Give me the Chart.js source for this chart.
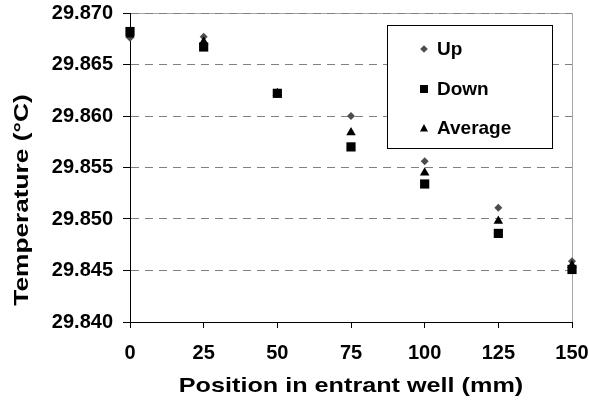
<!DOCTYPE html>
<html>
<head>
<meta charset="utf-8">
<style>
  html, body { margin: 0; padding: 0; background: #fff; }
</style>
</head>
<body>
<canvas id="tempChart" width="589" height="400"></canvas>
<script src="https://cdn.jsdelivr.net/npm/chart.js@4/dist/chart.umd.min.js"></script>
<script>
// Data
const positions = [0, 25, 50, 75, 100, 125, 150]
const upTemps = [29.8676, 29.8677, 29.8622, 29.8600, 29.8556, 29.8511, 29.8459]
const downTemps = [29.8682, 29.8667, 29.8622, 29.8570, 29.8534, 29.8486, 29.8451]
const averageTemps = [29.8679, 29.8672, 29.8622, 29.8584, 29.8545, 29.8498, 29.8455]

const xTicks = [0, 25, 50, 75, 100, 125, 150]
const yTicks = [29.840, 29.845, 29.850, 29.855, 29.860, 29.865, 29.870]

const seriesLabels = ['Up', 'Down', 'Average']
const xTitle = 'Position in entrant well (mm)'
const yTitle = 'Temperature (°C)'

const FONT = '"Liberation Sans", Arial, sans-serif'

const toPoints = (values) => positions.map((x, i) => ({ x, y: values[i] }))

// -------------------------

// Plot border (light grey on top and right)
const plotFrame = {
  id: 'plotFrame',
  beforeDraw(chart) {
    const { ctx, chartArea: a } = chart
    ctx.save()
    ctx.strokeStyle = '#a6a6a6'
    ctx.lineWidth = 1
    ctx.beginPath()
    ctx.moveTo(a.left, a.top + 0.5)
    ctx.lineTo(a.right + 0.5, a.top + 0.5)
    ctx.lineTo(a.right + 0.5, a.bottom)
    ctx.stroke()
    ctx.restore()
  },
}

// Axis titles, drawn a bit wider like the original
const drawStretched = (ctx, text, x, y, angle, scaleX) => {
  ctx.save()
  ctx.translate(x, y)
  ctx.rotate(angle)
  ctx.scale(scaleX, 1)
  ctx.fillText(text, 0, 0)
  ctx.restore()
}

const axisTitles = {
  id: 'axisTitles',
  afterDraw(chart) {
    const { ctx, chartArea: a } = chart
    ctx.save()
    ctx.fillStyle = '#000'
    ctx.font = 'bold 21px ' + FONT
    ctx.textAlign = 'center'
    ctx.textBaseline = 'alphabetic'
    drawStretched(ctx, xTitle, (a.left + a.right) / 2, 392, 0, 1.2)
    drawStretched(ctx, yTitle, 28, chart.height / 2, -Math.PI / 2, 1.25)
    ctx.restore()
  },
}

// Boxed legend inside the plot
const drawMarker = (ctx, style, x, y, color) => {
  ctx.fillStyle = color
  ctx.beginPath()
  if (style === 'rectRot') {
    ctx.moveTo(x, y - 3.8)
    ctx.lineTo(x + 3.8, y)
    ctx.lineTo(x, y + 3.8)
    ctx.lineTo(x - 3.8, y)
  } else if (style === 'rect') {
    ctx.rect(x - 4, y - 4, 8, 8)
  } else {
    ctx.moveTo(x, y - 4)
    ctx.lineTo(x + 4, y + 3.5)
    ctx.lineTo(x - 4, y + 3.5)
  }
  ctx.closePath()
  ctx.fill()
}

const boxLegend = {
  id: 'boxLegend',
  afterDraw(chart) {
    const { ctx } = chart
    const rows = [49, 89, 128]
    ctx.save()
    ctx.fillStyle = '#fff'
    ctx.fillRect(387, 25, 165, 123)
    ctx.strokeStyle = '#000'
    ctx.lineWidth = 1
    ctx.strokeRect(387.5, 25.5, 165, 123)

    ctx.font = 'bold 19px ' + FONT
    ctx.textAlign = 'left'
    ctx.textBaseline = 'middle'
    chart.data.datasets.forEach((ds, i) => {
      drawMarker(ctx, ds.pointStyle, 424, rows[i], ds.backgroundColor)
      ctx.fillStyle = '#000'
      ctx.fillText(ds.label, 437, rows[i] + 1)
    })
    ctx.restore()
  },
}

// -------------------------

const tickFont = { family: FONT, size: 20, weight: 'bold' }

new Chart(document.getElementById('tempChart'), {
  type: 'scatter',
  data: {
    datasets: [
      {
        label: seriesLabels[0],
        data: toPoints(upTemps),
        pointStyle: 'rectRot',
        pointRadius: 4,
        backgroundColor: '#4d4d4d',
        borderColor: '#4d4d4d',
        borderWidth: 0,
        order: 2,
        clip: false,
      },
      {
        label: seriesLabels[1],
        data: toPoints(downTemps),
        pointStyle: 'rect',
        pointRadius: 6.5,
        backgroundColor: '#000',
        borderColor: '#000',
        borderWidth: 0,
        order: 1,
        clip: false,
      },
      {
        label: seriesLabels[2],
        data: toPoints(averageTemps),
        pointStyle: 'triangle',
        pointRadius: 5.5,
        backgroundColor: '#000',
        borderColor: '#000',
        borderWidth: 0,
        order: 0,
        clip: false,
      },
    ],
  },
  options: {
    responsive: false,
    animation: false,
    devicePixelRatio: 1,
    events: [],
    layout: { padding: { top: 13, right: 17, left: 0, bottom: 0 } },
    plugins: {
      legend: { display: false },
      tooltip: { enabled: false },
    },
    scales: {
      x: {
        type: 'linear',
        min: 0,
        max: 150,
        afterBuildTicks: (scale) => { scale.ticks = xTicks.map((value) => ({ value })) },
        afterFit: (scale) => {
          scale.height = 78
          scale.paddingLeft = 0
          scale.paddingRight = 0
        },
        ticks: { color: '#000', font: tickFont, padding: 13, maxRotation: 0 },
        grid: { drawOnChartArea: false, tickLength: 6, tickColor: '#000', tickWidth: 1 },
        border: { color: '#000', width: 1 },
      },
      y: {
        min: 29.84,
        max: 29.87,
        afterBuildTicks: (scale) => { scale.ticks = yTicks.map((value) => ({ value })) },
        afterFit: (scale) => {
          scale.width = 130
          scale.paddingTop = 0
          scale.paddingBottom = 0
        },
        ticks: { color: '#000', font: tickFont, padding: 10, callback: (v) => v.toFixed(3) },
        grid: { color: '#808080', lineWidth: 1, tickLength: 7, tickColor: '#000', tickBorderDash: [] },
        border: { color: '#000', width: 1, dash: [8, 6] },
      },
    },
  },
  plugins: [plotFrame, axisTitles, boxLegend],
})
</script>
</body>
</html>
